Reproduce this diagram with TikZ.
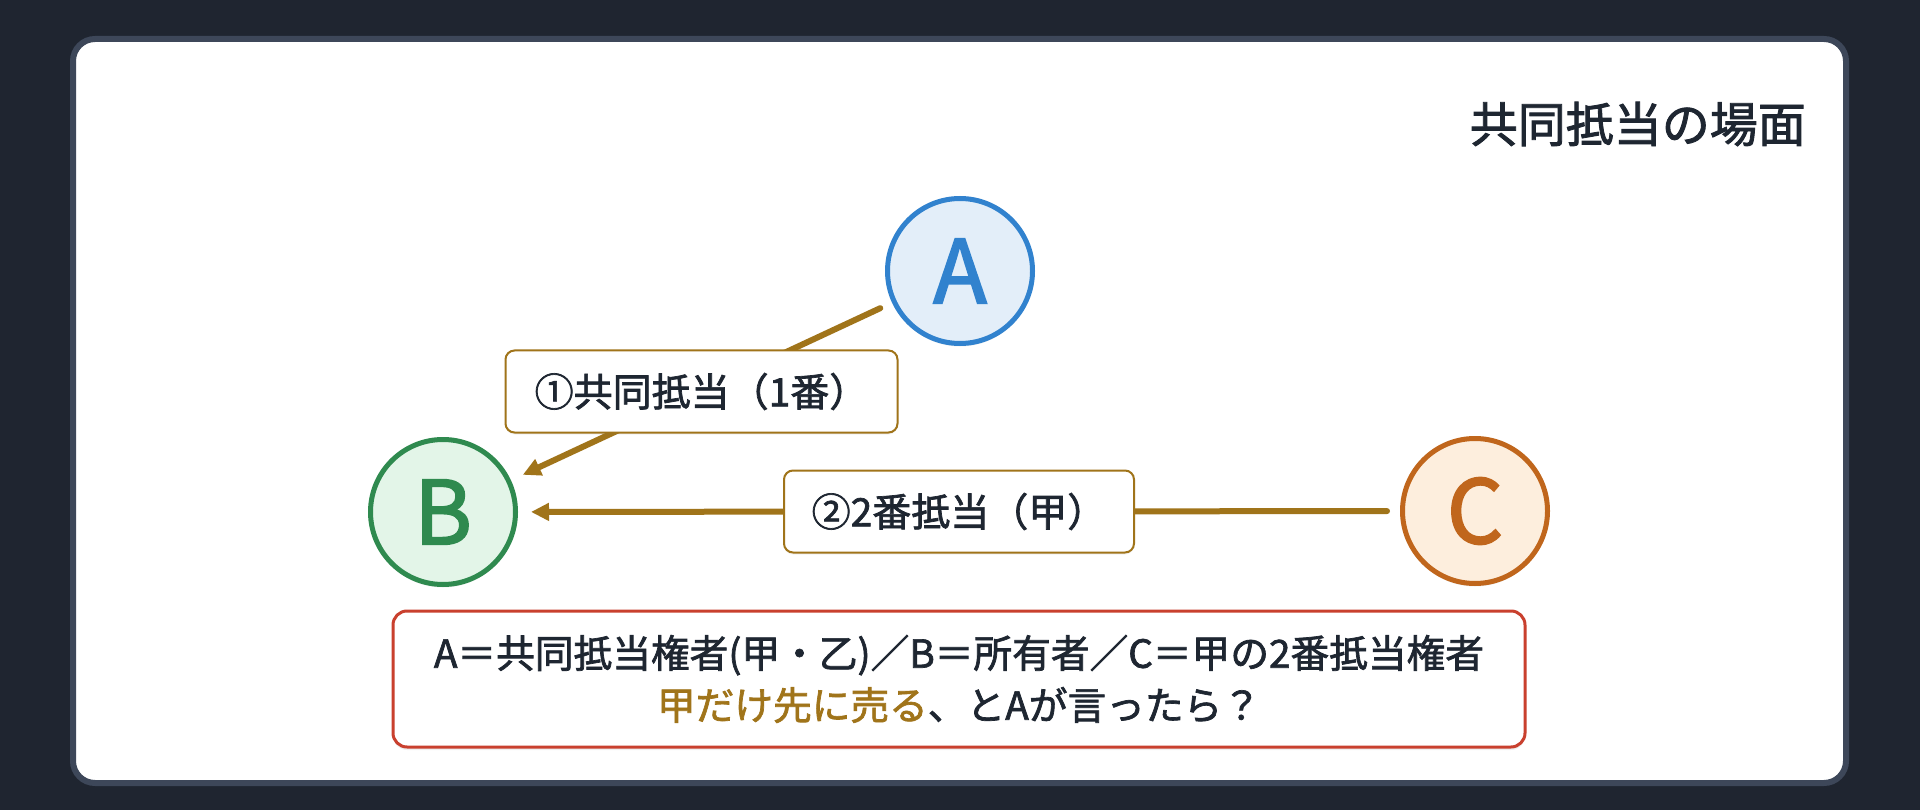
\documentclass[tikz,border=0pt]{standalone}
\usepackage{fontspec}
\setmainfont{Noto Sans CJK JP}
\newfontfamily\medfont{Noto Sans CJK JP}[FakeBold=1.8]
\newfontfamily\letterfont{Noto Sans CJK JP}[FakeBold=2.2]
\usepackage{xcolor}
\usetikzlibrary{positioning,arrows.meta,shadows}
\definecolor{bgdark}{HTML}{1F2530}
\definecolor{panelline}{HTML}{3D4759}
\definecolor{inkdark}{HTML}{1E2631}
\definecolor{gold}{HTML}{A0741A}
\definecolor{ablue}{HTML}{3182CE}
\definecolor{abluefill}{HTML}{E3EEF9}
\definecolor{bgreen}{HTML}{2F8A4F}
\definecolor{bgreenfill}{HTML}{E3F5E8}
\definecolor{corange}{HTML}{C0661C}
\definecolor{corangefill}{HTML}{FDEEDD}
\definecolor{notered}{HTML}{C9402E}

\begin{document}
\begin{tikzpicture}[x=1pt,y=-1pt,
  party/.style={circle,minimum size=145pt,inner sep=0pt,line width=5pt,
    font=\letterfont\fontsize{88}{88}\selectfont,
    drop shadow={opacity=0.12,shadow xshift=0pt,shadow yshift=-3pt}},
  tag/.style={draw=gold,line width=2pt,fill=white,rounded corners=9pt,
    inner xsep=0pt,minimum height=82pt,text=inkdark,
    font=\medfont\fontsize{39}{39}\selectfont,
    drop shadow={opacity=0.10,shadow xshift=0pt,shadow yshift=-2pt}},
  deed/.style={draw=gold,line width=6pt,line cap=round,
    -{Triangle[length=18pt,width=17pt]},shorten >=13pt,shorten <=13pt}]
% background and panel
\fill[bgdark] (0,0) rectangle (1920,810);
\useasboundingbox (0,0) rectangle (1920,810);
\draw[panelline,line width=6pt,fill=white,rounded corners=22pt] (73,39) rectangle (1846,783);
\node[anchor=east,inner sep=0pt,text=inkdark,font=\medfont\fontsize{48}{48}\selectfont] (title) at (1806,124) {共同抵当の場面};
% parties
\node[party,draw=ablue,fill=abluefill,text=ablue] (A) at (960,271) {A};
\node[party,draw=bgreen,fill=bgreenfill,text=bgreen] (B) at (443,512) {B};
\node[party,draw=corange,fill=corangefill,text=corange] (C) at (1475,511) {C};
% mortgages
\draw[deed] (A) -- node[tag,minimum width=392pt] (first) {①共同抵当（1番）} (B);
\draw[deed] (C) -- node[tag,minimum width=350pt] (second) {②2番抵当（甲）} (B);
% note
\node[draw=notered,line width=3pt,fill=white,rounded corners=14pt,
  minimum width=1132pt,minimum height=136pt,align=center,text=inkdark,
  font=\medfont\fontsize{38.7}{52}\selectfont,
  drop shadow={opacity=0.12,shadow xshift=0pt,shadow yshift=-3pt}] (note) at (959,679)
  {A＝共同抵当権者(甲・乙)／B＝所有者／C＝甲の2番抵当権者\\
   \textcolor{gold}{甲だけ先に売る}、とAが言ったら？};
\end{tikzpicture}
\end{document}
